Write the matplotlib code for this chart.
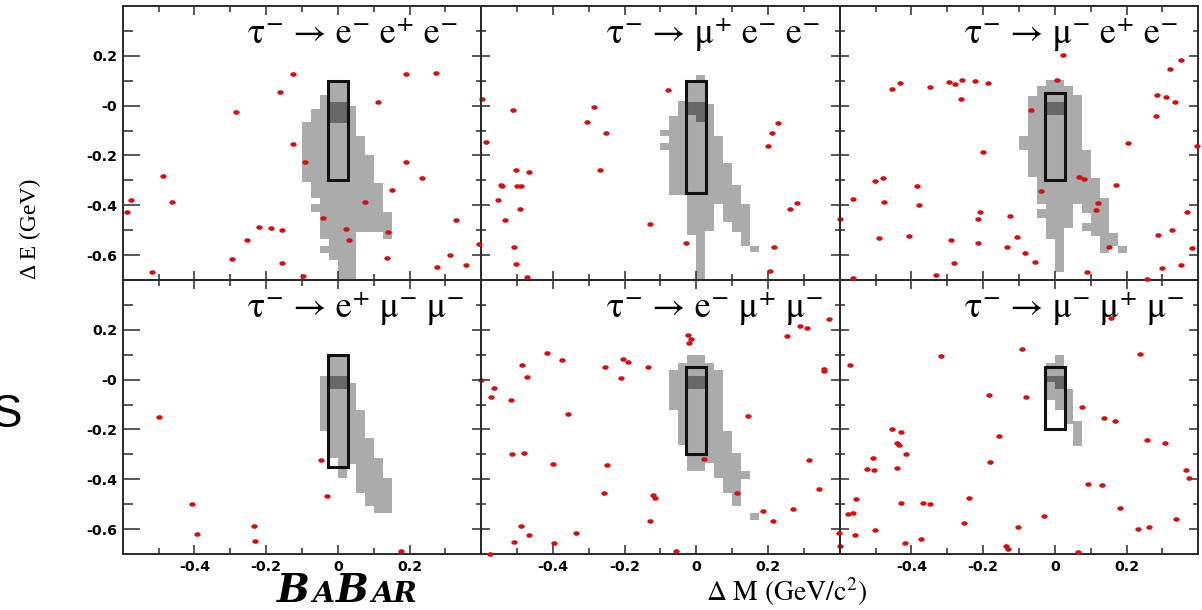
import numpy as np
import matplotlib
matplotlib.use("Agg")
import matplotlib.pyplot as plt
from matplotlib.path import Path
from matplotlib.ticker import FixedLocator, FixedFormatter
from matplotlib.offsetbox import TextArea, HPacker, AnnotationBbox

plt.rcParams['mathtext.fontset'] = 'stix'

# ---------------- data ----------------
XLIM = (-0.6, 0.4)
YLIM = (-0.7, 0.4)
BIN_W = 0.025
X_MAJOR = [-0.4, -0.2, 0.0, 0.2]
X_LABELS = ['-0.4', '-0.2', '0', '0.2']
X_MINOR = [-0.5, -0.3, -0.1, 0.1, 0.3]
Y_MAJOR = [0.2, 0.0, -0.2, -0.4, -0.6]
Y_LABELS = ['0.2', '-0', '-0.2', '-0.4', '-0.6']
Y_MINOR = [0.3, 0.1, -0.1, -0.3, -0.5]

TITLES = [
    '\u03c4\u207b \u2192 e\u207b e\u207a e\u207b',
    '\u03c4\u207b \u2192 \u03bc\u207a e\u207b e\u207b',
    '\u03c4\u207b \u2192 \u03bc\u207b e\u207a e\u207b',
    '\u03c4\u207b \u2192 e\u207a \u03bc\u207b \u03bc\u207b',
    '\u03c4\u207b \u2192 e\u207b \u03bc\u207a \u03bc\u207b',
    '\u03c4\u207b \u2192 \u03bc\u207b \u03bc\u207a \u03bc\u207b',
]

BOX_DM = (-0.028, 0.028)
BOX_DE = [(-0.30, 0.10), (-0.35, 0.10), (-0.30, 0.05),
          (-0.35, 0.10), (-0.30, 0.05), (-0.20, 0.05)]

# signal MC: (bin left edge in dM, dE low, dE high)
SIG_EEE = [(-0.100, -0.305, -0.065), (-0.075, -0.370, -0.013), (-0.075, -0.427, -0.394),
           (-0.050, -0.535, 0.041), (-0.050, -0.592, -0.565), (-0.025, -0.620, 0.100),
           (0.000, -0.700, 0.100), (0.025, -0.700, 0.000), (0.050, -0.507, -0.123),
           (0.075, -0.507, -0.197), (0.100, -0.507, -0.310), (0.125, -0.535, -0.427)]
SIG_MEE = [(-0.100, -0.123, -0.096), (-0.100, -0.177, -0.150), (-0.075, -0.360, -0.040),
           (-0.050, -0.360, 0.017), (-0.025, -0.520, 0.100), (0.000, -0.700, 0.125),
           (0.025, -0.505, 0.005), (0.050, -0.394, -0.123), (0.075, -0.469, -0.230),
           (0.100, -0.509, -0.320), (0.125, -0.562, -0.394), (0.150, -0.589, -0.565)]
SIG_MPEE = [(-0.100, -0.177, -0.123), (-0.075, -0.286, 0.040), (-0.050, -0.394, 0.078),
            (-0.050, -0.451, -0.415), (-0.025, -0.535, 0.104), (0.000, -0.669, 0.104),
            (0.025, -0.490, 0.078), (0.050, -0.394, 0.041), (0.075, -0.430, -0.177),
            (0.075, -0.505, -0.470), (0.100, -0.525, -0.290), (0.125, -0.590, -0.371),
            (0.150, -0.565, -0.511), (0.175, -0.590, -0.565)]
SIG_EMM = [(-0.050, -0.206, 0.015), (-0.025, -0.316, 0.100), (0.000, -0.396, 0.100),
           (0.025, -0.340, -0.012), (0.050, -0.454, -0.123), (0.075, -0.507, -0.233),
           (0.100, -0.534, -0.313), (0.125, -0.534, -0.396)]
SIG_EMPM = [(-0.075, -0.123, 0.039), (-0.050, -0.262, 0.068), (-0.025, -0.367, 0.099),
            (0.000, -0.367, 0.099), (0.025, -0.334, 0.068), (0.050, -0.394, 0.039),
            (0.075, -0.454, -0.206), (0.100, -0.508, -0.293), (0.125, -0.400, -0.367),
            (0.150, -0.562, -0.535)]
SIG_MMM = [(-0.025, -0.083, 0.065), (0.000, -0.123, 0.098),
           (0.025, -0.180, -0.038), (0.050, -0.265, -0.165)]

CORE_EEE = [(-0.025, -0.070, 0.015), (0.000, -0.070, 0.015)]
CORE_MEE = [(-0.025, -0.036, 0.014), (0.000, -0.066, 0.014)]
CORE_MPEE = [(-0.025, -0.036, 0.015), (0.000, -0.036, 0.015)]
CORE_EMM = [(-0.025, -0.039, 0.013), (0.000, -0.039, 0.013)]
CORE_EMPM = [(-0.025, -0.038, 0.015), (0.000, -0.038, 0.015)]
CORE_MMM = [(-0.025, -0.008, 0.013), (0.000, -0.038, 0.013)]

# data events
DM_EEE = [-0.124, -0.161, -0.284, -0.126, -0.091, -0.488, -0.578, -0.587, -0.462, -0.517,
          -0.295, -0.253, -0.221, -0.187, -0.156, -0.156, -0.096, -0.040, 0.023, 0.030,
          0.075, 0.112, 0.189, 0.273, 0.191, 0.151, 0.236, 0.139, 0.137, 0.329,
          0.313, 0.277, 0.358, 0.393]
DE_EEE = [0.128, 0.054, -0.027, -0.154, -0.226, -0.284, -0.380, -0.427, -0.388, -0.669,
          -0.614, -0.541, -0.489, -0.491, -0.498, -0.631, -0.683, -0.452, -0.495, -0.538,
          -0.386, 0.013, 0.128, 0.131, -0.228, -0.337, -0.292, -0.507, -0.613, -0.461,
          -0.598, -0.649, -0.640, -0.557]

DM_MEE = [-0.597, -0.587, -0.512, -0.286, -0.305, -0.252, -0.269, -0.502, -0.466, -0.545,
          -0.541, -0.500, -0.488, -0.552, -0.492, -0.533, -0.508, -0.502, -0.471, -0.080,
          -0.128, -0.030, 0.228, 0.211, 0.200, 0.281, 0.260, 0.217, 0.206]
DE_MEE = [0.027, -0.147, -0.019, -0.007, -0.067, -0.111, -0.258, -0.257, -0.265, -0.317,
          -0.324, -0.323, -0.323, -0.379, -0.416, -0.458, -0.569, -0.635, -0.687, 0.062,
          -0.475, -0.553, -0.068, -0.111, -0.163, -0.392, -0.415, -0.569, -0.665]

DM_MPEE = [0.022, 0.006, -0.067, -0.455, -0.432, -0.348, -0.295, -0.277, -0.258, -0.223,
           -0.185, -0.262, -0.199, -0.502, -0.480, -0.384, -0.564, -0.477, -0.378, -0.599,
           -0.210, -0.213, -0.124, -0.490, -0.408, -0.289, -0.213, -0.134, -0.106, -0.084,
           -0.056, -0.282, -0.331, -0.562, -0.038, 0.067, 0.082, 0.172, 0.121, 0.116,
           0.151, 0.089, 0.205, 0.257, 0.321, 0.351, 0.284, 0.310, 0.334, 0.283,
           0.397, 0.369, 0.328, 0.287, 0.382, 0.300, 0.352]
DE_MPEE = [0.203, 0.102, -0.016, 0.068, 0.091, 0.075, 0.095, 0.087, 0.102, 0.099,
           0.091, 0.027, -0.186, -0.301, -0.289, -0.323, -0.375, -0.386, -0.400, -0.455,
           -0.428, -0.455, -0.442, -0.531, -0.523, -0.541, -0.550, -0.569, -0.526, -0.593,
           -0.629, -0.631, -0.680, -0.693, -0.341, -0.288, -0.293, -0.320, -0.392, -0.420,
           -0.569, -0.667, -0.151, -0.696, 0.147, 0.183, 0.043, 0.036, 0.013, -0.043,
           -0.161, -0.426, -0.501, -0.521, -0.572, -0.651, -0.641]

DM_EMM = [-0.499, -0.406, -0.393, -0.234, -0.230, -0.048, -0.031, 0.177]
DE_EMM = [-0.150, -0.498, -0.620, -0.586, -0.649, -0.324, -0.467, -0.689]

DM_EMPM = [-0.600, -0.564, -0.573, -0.516, -0.487, -0.471, -0.417, -0.375, -0.359, -0.255,
           -0.205, -0.191, -0.209, -0.135, -0.024, -0.016, -0.020, -0.514, -0.480, -0.400,
           -0.249, -0.258, -0.121, -0.115, -0.128, -0.489, -0.468, -0.508, -0.397, -0.335,
           -0.575, -0.058, 0.022, 0.143, 0.113, 0.186, 0.214, 0.271, 0.253, 0.288,
           0.310, 0.369, 0.356, 0.357, 0.313, 0.341, 0.397]
DE_EMPM = [-0.003, -0.035, -0.070, -0.080, 0.059, 0.012, 0.106, 0.078, -0.138, 0.050,
           0.082, 0.072, 0.005, 0.051, 0.178, 0.165, 0.149, -0.299, -0.293, -0.340,
           -0.343, -0.455, -0.462, -0.477, -0.566, -0.588, -0.624, -0.652, -0.657, -0.614,
           -0.699, -0.688, -0.317, -0.145, -0.454, -0.526, -0.569, -0.519, 0.177, 0.214,
           0.207, 0.245, 0.044, 0.035, -0.323, -0.440, -0.616]

DM_MMM = [-0.572, -0.318, -0.091, 0.239, -0.184, -0.081, 0.076, 0.138, 0.168, -0.454,
          -0.429, -0.439, -0.435, -0.155, -0.416, -0.508, -0.524, -0.505, -0.441, -0.180,
          0.257, 0.306, 0.367, 0.373, 0.094, 0.132, 0.182, -0.555, -0.578, -0.564,
          -0.428, -0.368, -0.347, -0.239, -0.254, -0.030, -0.104, -0.502, -0.557, -0.599,
          -0.417, -0.373, -0.135, -0.131, 0.064, 0.231, 0.263, 0.338, 0.157]
DE_MMM = [0.058, 0.096, 0.123, 0.103, -0.062, -0.068, -0.110, -0.153, -0.165, -0.197,
          -0.212, -0.256, -0.264, -0.226, -0.300, -0.315, -0.357, -0.363, -0.356, -0.329,
          -0.241, -0.253, -0.364, -0.394, -0.420, -0.424, -0.515, -0.481, -0.541, -0.535,
          -0.494, -0.495, -0.501, -0.474, -0.574, -0.548, -0.592, -0.605, -0.625, -0.668,
          -0.656, -0.641, -0.668, -0.681, -0.692, -0.598, -0.593, -0.560, 0.246]

SIGNALS = [SIG_EEE, SIG_MEE, SIG_MPEE, SIG_EMM, SIG_EMPM, SIG_MMM]
CORES = [CORE_EEE, CORE_MEE, CORE_MPEE, CORE_EMM, CORE_EMPM, CORE_MMM]
DATA_DM = [DM_EEE, DM_MEE, DM_MPEE, DM_EMM, DM_EMPM, DM_MMM]
DATA_DE = [DE_EEE, DE_MEE, DE_MPEE, DE_EMM, DE_EMPM, DE_MMM]

# ---------------- figure ----------------
W, H = 1202, 610
fig = plt.figure(figsize=(W / 100, H / 100), dpi=100)
fig.patch.set_facecolor('white')

LEFT0, PW, TOP0, PH = 122.7, 358.5, 6.0, 274.0
LIGHT = '#ababab'
DARK = '#686868'
RED = '#cc1414'
SPINE = '#2a2a2a'

circ = Path.unit_circle()
ell = Path(circ.vertices * np.array([1.0, 0.72]), circ.codes)

tick_font = dict(family='DejaVu Sans', weight='bold', size=10.2)
title_family = ['STIXGeneral', 'DejaVu Serif']

for i in range(6):
    r, c = divmod(i, 3)
    ax = fig.add_axes([(LEFT0 + c * PW) / W, 1 - (TOP0 + (r + 1) * PH) / H, PW / W, PH / H])
    ax.set_xlim(XLIM)
    ax.set_ylim(YLIM)

    sig = SIGNALS[i]
    ax.bar([s[0] for s in sig], [s[2] - s[1] for s in sig], bottom=[s[1] for s in sig],
           width=BIN_W, align='edge', color=LIGHT, linewidth=0, zorder=1)
    core = CORES[i]
    ax.bar([s[0] for s in core], [s[2] - s[1] for s in core], bottom=[s[1] for s in core],
           width=BIN_W, align='edge', color=DARK, linewidth=0, zorder=2)

    y0, y1 = BOX_DE[i]
    x0, x1 = BOX_DM
    ax.plot([x0, x1, x1, x0, x0], [y0, y0, y1, y1, y0], color='#111111', lw=2.2,
            solid_joinstyle='miter', zorder=3)

    ax.plot(DATA_DM[i], DATA_DE[i], linestyle='none', marker=ell, markersize=4.6,
            color=RED, markeredgewidth=0, zorder=4, clip_on=False)

    ax.text(-0.25, 0.25, TITLES[i], fontsize=26, family=title_family,
            ha='left', va='baseline', zorder=5)

    ax.xaxis.set_major_locator(FixedLocator(X_MAJOR))
    ax.xaxis.set_minor_locator(FixedLocator(X_MINOR))
    ax.yaxis.set_major_locator(FixedLocator(Y_MAJOR))
    ax.yaxis.set_minor_locator(FixedLocator(Y_MINOR))
    ax.tick_params(axis='both', which='both', direction='in', top=True, bottom=True,
                   left=True, right=True, color=SPINE, width=1.1)
    ax.tick_params(axis='both', which='major', length=6.5, pad=4)
    ax.tick_params(axis='x', which='minor', length=4.3)
    ax.tick_params(axis='y', which='minor', length=3.5)

    if r == 1:
        ax.xaxis.set_major_formatter(FixedFormatter(X_LABELS))
        for lab in ax.get_xticklabels():
            lab.set_fontproperties(tick_font)
    else:
        ax.set_xticklabels([])
    if c == 0:
        ax.yaxis.set_major_formatter(FixedFormatter(Y_LABELS))
        for lab in ax.get_yticklabels():
            lab.set_fontproperties(tick_font)
        for t in ax.yaxis.get_major_ticks(len(Y_MAJOR)):
            t.tick1line.set_markersize(12.5)
        for t in ax.yaxis.get_minor_ticks(len(Y_MINOR)):
            t.tick1line.set_markersize(7)
    else:
        ax.set_yticklabels([])

    for sp in ax.spines.values():
        sp.set_color(SPINE)
        sp.set_linewidth(1.4)
    ax.set_zorder(1 + (5 - i) * 0.01)
    ax.patch.set_alpha(0)

# axis labels
serif = ['Liberation Serif', 'DejaVu Serif']
fig.text(30 / W, 1 - 229 / H, '\u0394 E (GeV)', rotation=90, ha='center', va='center',
         family=serif, fontsize=17)
fig.text(787 / W, 1 - 592 / H, r'$\mathrm{\Delta\ M\ (GeV/c^{2})}$', ha='center',
         va='center', fontsize=20)

# stray slide letter at left
fig.text(22 / W, 1 - 427 / H, 'S', ha='right', va='baseline', family='Liberation Sans',
         fontsize=33)

# BaBar logo
big = dict(family='DejaVu Serif', style='italic', weight='bold', size=28)
small = dict(family='DejaVu Serif', style='italic', weight='bold', size=20.5)
parts = [TextArea('B', textprops=big), TextArea('A', textprops=small),
         TextArea('B', textprops=big), TextArea('AR', textprops=small)]
hp = HPacker(children=parts, align='baseline', pad=0, sep=1.5)
ab = AnnotationBbox(hp, (277, 0), xycoords='figure pixels', box_alignment=(0, 0),
                    frameon=False, pad=0)
fig.add_artist(ab)

fig.savefig('out.png', dpi=100, facecolor='white')
